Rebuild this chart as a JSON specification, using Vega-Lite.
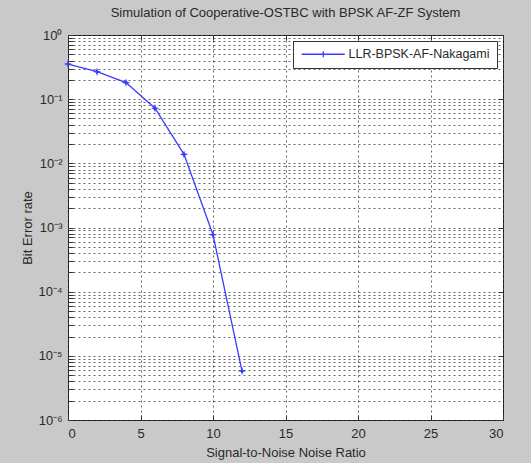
{
  "$schema": "https://vega.github.io/schema/vega-lite/v6.json",
  "width": 435,
  "height": 385,
  "autosize": {"type": "none"},
  "padding": {"left": 68, "top": 35, "right": 28, "bottom": 43},
  "background": "#c9c9c9",
  "title": {
    "text": "Simulation of Cooperative-OSTBC with BPSK AF-ZF System",
    "font": "Liberation Sans",
    "fontSize": 13,
    "fontWeight": "normal",
    "color": "#2a2a2a",
    "anchor": "middle",
    "offset": 9
  },
  "config": {
    "view": {"fill": "white", "stroke": "#333333", "strokeWidth": 1},
    "font": "Liberation Sans",
    "axis": {
      "domain": false,
      "labelFont": "Liberation Sans",
      "labelFontSize": 13,
      "labelColor": "#2a2a2a",
      "titleFont": "Liberation Sans",
      "titleFontSize": 13,
      "titleFontWeight": "normal",
      "titleColor": "#2a2a2a",
      "tickColor": "#333333",
      "gridColor": "#000000",
      "gridOpacity": 0.6,
      "gridDash": [2, 3],
      "gridWidth": 1
    }
  },
  "data": {
    "values": [
      {"snr": 0, "ber": 0.353, "series": "LLR-BPSK-AF-Nakagami"},
      {"snr": 2, "ber": 0.268, "series": "LLR-BPSK-AF-Nakagami"},
      {"snr": 4, "ber": 0.181, "series": "LLR-BPSK-AF-Nakagami"},
      {"snr": 6, "ber": 0.0722, "series": "LLR-BPSK-AF-Nakagami"},
      {"snr": 8, "ber": 0.0138, "series": "LLR-BPSK-AF-Nakagami"},
      {"snr": 10, "ber": 0.00077, "series": "LLR-BPSK-AF-Nakagami"},
      {"snr": 12, "ber": 0.0000058, "series": "LLR-BPSK-AF-Nakagami"}
    ]
  },
  "layer": [
    {
      "mark": {
        "type": "line",
        "strokeWidth": 1.3,
        "point": {
          "filled": true,
          "size": 70,
          "shape": "M0,-1L0.25,-0.25L1,0L0.25,0.25L0,1L-0.25,0.25L-1,0L-0.25,-0.25Z"
        }
      },
      "encoding": {
        "x": {
          "field": "snr",
          "type": "quantitative",
          "scale": {"domain": [0, 30], "nice": false, "zero": false},
          "axis": {
            "orient": "bottom",
            "title": "Signal-to-Noise Noise Ratio",
            "values": [0, 5, 10, 15, 20, 25, 30],
            "grid": true,
            "tickSize": -5,
            "labelPadding": 12,
            "titlePadding": 6
          }
        },
        "y": {
          "field": "ber",
          "type": "quantitative",
          "scale": {"type": "log", "domain": [0.000001, 1], "nice": false},
          "axis": {
            "orient": "left",
            "title": "Bit Error rate",
            "values": [
              0.000001, 0.000002, 0.000003, 0.000004, 0.000005, 0.000006, 0.000007, 0.000008, 0.000009,
              0.00001, 0.00002, 0.00003, 0.00004, 0.00005, 0.00006, 0.00007, 0.00008, 0.00009,
              0.0001, 0.0002, 0.0003, 0.0004, 0.0005, 0.0006, 0.0007, 0.0008, 0.0009,
              0.001, 0.002, 0.003, 0.004, 0.005, 0.006, 0.007, 0.008, 0.009,
              0.01, 0.02, 0.03, 0.04, 0.05, 0.06, 0.07, 0.08, 0.09,
              0.1, 0.2, 0.3, 0.4, 0.5, 0.6, 0.7, 0.8, 0.9,
              1
            ],
            "labelExpr": "abs(log(datum.value)/LN10 - round(log(datum.value)/LN10)) < 0.001 ? '10' + ['⁰','⁻¹','⁻²','⁻³','⁻⁴','⁻⁵','⁻⁶'][-round(log(datum.value)/LN10)] : ''",
            "grid": true,
            "tickSize": -5,
            "labelPadding": 11,
            "titlePadding": 3
          }
        },
        "color": {
          "field": "series",
          "type": "nominal",
          "scale": {"range": ["#3a3aff"]},
          "legend": {
            "title": null,
            "orient": "top-right",
            "offset": 6,
            "fillColor": "white",
            "strokeColor": "#333333",
            "padding": 7,
            "symbolType": "M-4.3,0H4.3M0,-0.6V0.6M-0.6,0H0.6",
            "symbolSize": 100,
            "symbolStrokeWidth": 1.3,
            "symbolOffset": 17,
            "labelOffset": 19,
            "labelFont": "Liberation Sans",
            "labelFontSize": 12.5,
            "labelColor": "#2a2a2a"
          }
        }
      }
    },
    {
      "mark": {"type": "point", "opacity": 0},
      "encoding": {
        "x": {
          "field": "snr",
          "type": "quantitative",
          "axis": {
            "orient": "top",
            "title": null,
            "labels": false,
            "grid": false,
            "values": [0, 5, 10, 15, 20, 25, 30],
            "tickSize": -5
          }
        },
        "y": {
          "field": "ber",
          "type": "quantitative",
          "axis": {
            "orient": "right",
            "title": null,
            "labels": false,
            "grid": false,
            "values": [0.000001, 0.00001, 0.0001, 0.001, 0.01, 0.1, 1],
            "tickSize": -5
          }
        }
      }
    }
  ],
  "resolve": {"axis": {"x": "independent", "y": "independent"}}
}
